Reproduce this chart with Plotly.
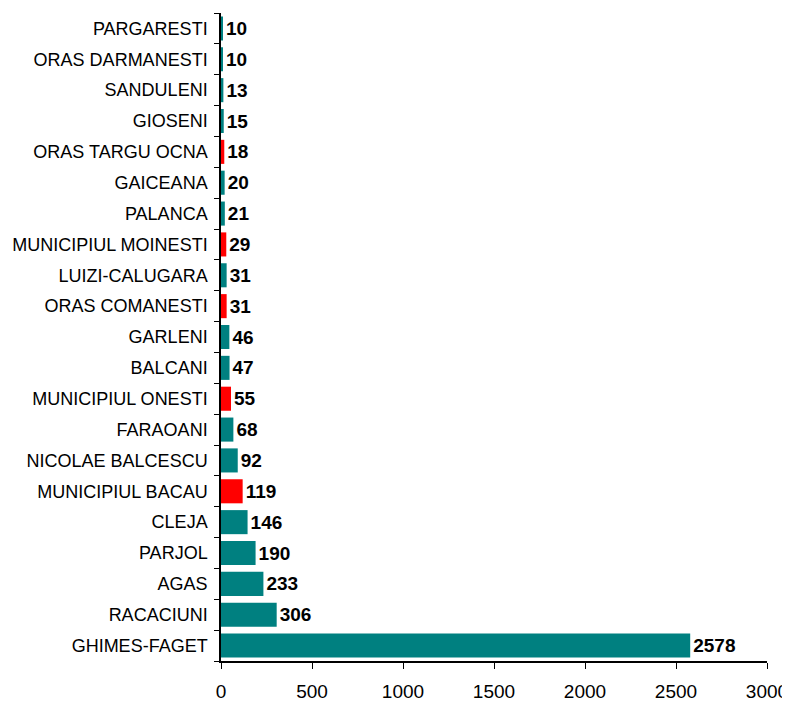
import plotly.graph_objects as go

# categories from top to bottom as in the picture
localitati = ['PARGARESTI', 'ORAS DARMANESTI', 'SANDULENI', 'GIOSENI', 'ORAS TARGU OCNA',
              'GAICEANA', 'PALANCA', 'MUNICIPIUL MOINESTI', 'LUIZI-CALUGARA', 'ORAS COMANESTI',
              'GARLENI', 'BALCANI', 'MUNICIPIUL ONESTI', 'FARAOANI', 'NICOLAE BALCESCU',
              'MUNICIPIUL BACAU', 'CLEJA', 'PARJOL', 'AGAS', 'RACACIUNI', 'GHIMES-FAGET']
cazuri = [10, 10, 13, 15, 18, 20, 21, 29, 31, 31, 46, 47, 55, 68, 92, 119, 146, 190, 233, 306, 2578]
urban = ['ORAS TARGU OCNA', 'MUNICIPIUL MOINESTI', 'ORAS COMANESTI', 'MUNICIPIUL ONESTI', 'MUNICIPIUL BACAU']

culori = ['#FF0000' if c in urban else '#008080' for c in localitati]

# plotly draws categories bottom-up, so reverse
y = localitati[::-1]
x = cazuri[::-1]
col = culori[::-1]

fig = go.Figure(go.Bar(
    x=x, y=y, orientation='h',
    marker=dict(color=col, line=dict(width=0)),
    text=[str(v) for v in x],
    textposition='outside',
    textfont=dict(family='Liberation Sans, Arial', size=19, color='black', weight='bold'),
    cliponaxis=False,
))

# page body has an 8px margin, so the figure is a bit smaller than the window
fig.update_layout(
    width=782, height=696,
    margin=dict(l=213, r=23, t=5, b=43),
    plot_bgcolor='white', paper_bgcolor='white',
    bargap=0.22,
    showlegend=False,
    font=dict(family='Liberation Sans, Arial', size=18, color='black'),
)
fig.update_xaxes(
    range=[0, 3000], dtick=500, showgrid=False, zeroline=False,
    showline=True, linecolor='black', linewidth=1.5,
    ticks='outside', ticklen=6, tickcolor='black',
    ticklabelstandoff=6, automargin=False,
    tickfont=dict(size=19),
)
fig.update_yaxes(
    showgrid=False, showline=True, linecolor='black', linewidth=1.5,
    ticks='outside', ticklen=5, tickcolor='black', tickson='boundaries',
    ticklabelstandoff=8, automargin=False,
    tickfont=dict(size=18),
)

fig.write_html("out.html")
